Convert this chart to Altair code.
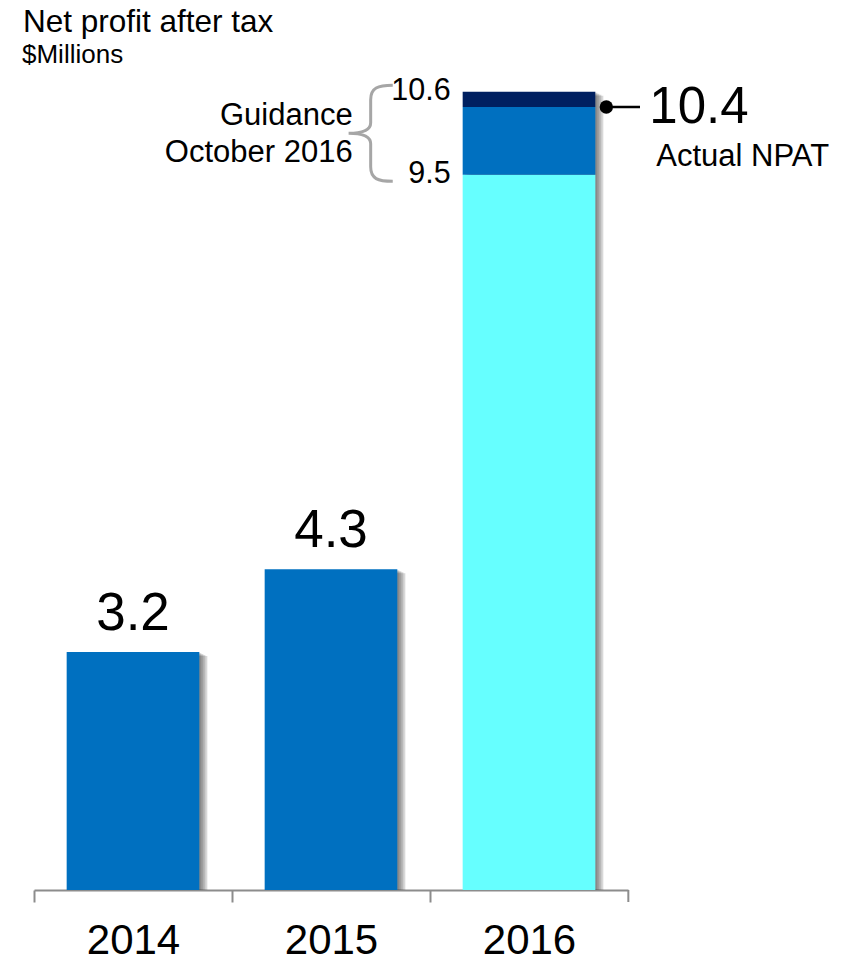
import altair as alt
import pandas as pd

# ---- data ----
years = ["2014", "2015", "2016"]
npat_prior = [3.16, 4.26]          # bar heights of 2014, 2015
npat_labels = ["3.2", "4.3"]
guidance_low = 9.5
guidance_high = 10.6
actual_2016 = 10.4

seg_year = ["2014", "2015", "2016", "2016", "2016"]
seg_start = [0, 0, 0, guidance_low, actual_2016]
seg_end = [npat_prior[0], npat_prior[1], guidance_low, actual_2016, guidance_high]
seg_color = ["#0070C0", "#0070C0", "#66FFFF", "#0070C0", "#002060"]

FONT = "Liberation Sans"
AXIS_GREY = "#8C8C8C"

segs = pd.DataFrame({"year": seg_year, "start": seg_start, "end": seg_end, "color": seg_color})
totals = pd.DataFrame({"year": years, "total": [npat_prior[0], npat_prior[1], guidance_high]})
prior = pd.DataFrame({"year": years[:2], "v": npat_prior, "label": npat_labels})

xscale = alt.Scale(domain=years, paddingInner=0.33, paddingOuter=0.165)
yscale = alt.Scale(domain=[0, 11.82], nice=False, zero=True)

X = alt.X("year:N", scale=xscale, axis=alt.Axis(
    title=None, labelAngle=0, labelFont=FONT, labelFontSize=42, labelColor="black",
    labelBaseline="alphabetic", labelPadding=51, domainColor=AXIS_GREY, domainWidth=2,
    tickColor=AXIS_GREY, tickWidth=2, tickSize=12, tickOffset=-99, labelOffset=99,
    grid=False))

# shadows
shadows = []
for k in [2, 4, 6, 8]:
    shadows.append(
        alt.Chart(totals).mark_bar(color="#303030", opacity=0.19, xOffset=k, yOffset=k * 0.5)
        .encode(x=X, y=alt.Y("total:Q", scale=yscale, axis=None), y2=alt.datum(0))
    )

bars = alt.Chart(segs).mark_bar().encode(
    x=X,
    y=alt.Y("start:Q", scale=yscale, axis=None),
    y2="end:Q",
    color=alt.Color("color:N", scale=None),
)

# closing tick at the right end of the category axis
end_tick = alt.Chart(pd.DataFrame({"year": [years[-1]]})).mark_rule(
    color=AXIS_GREY, strokeWidth=2, xOffset=33
).encode(x=alt.X("year:N", scale=xscale, bandPosition=1),
         y=alt.datum(0, scale=yscale), y2=alt.value(902))

value_labels = alt.Chart(prior).mark_text(
    font=FONT, fontSize=53, baseline="alphabetic", dy=-22, color="black"
).encode(x=alt.X("year:N", scale=xscale), y=alt.Y("v:Q", scale=yscale), text="label:N")

g = pd.DataFrame({"year": ["2016", "2016"], "v": [guidance_high, guidance_low],
                  "label": [f"{guidance_high:.1f}", f"{guidance_low:.1f}"]})
guide_vals = alt.Chart(g).mark_text(
    font=FONT, fontSize=30.5, baseline="alphabetic", align="right", dx=-12, dy=8.5, color="black"
).encode(x=alt.X("year:N", scale=xscale, bandPosition=0), y=alt.Y("v:Q", scale=yscale), text="label:N")

mid = pd.DataFrame({"year": ["2016"], "v": [(guidance_high + guidance_low) / 2],
                    "label": [["Guidance", "October 2016"]]})
brace_path = ("M0.46,-1 C0.15,-1 0,-0.95 0,-0.7 L0,-0.22 C0,-0.06 -0.2,0 -0.46,0 "
              "C-0.2,0 0,0.06 0,0.22 L0,0.7 C0,0.95 0.15,1 0.46,1")
brace = alt.Chart(mid).mark_point(
    shape=brace_path, size=9216, filled=False, stroke="#A6A6A6", strokeWidth=3, opacity=1,
    xOffset=-92
).encode(x=alt.X("year:N", scale=xscale, bandPosition=0), y=alt.Y("v:Q", scale=yscale))

guide_text = alt.Chart(mid).mark_text(
    font=FONT, fontSize=31, baseline="alphabetic", align="right", dx=-110, dy=-8.4,
    lineHeight=37, color="black"
).encode(x=alt.X("year:N", scale=xscale, bandPosition=0), y=alt.Y("v:Q", scale=yscale), text="label")

act = pd.DataFrame({"year": ["2016"], "v": [actual_2016], "label": [f"{actual_2016:.1f}"],
                    "sub": ["Actual NPAT"]})
act_rule = alt.Chart(act).mark_rule(color="black", strokeWidth=2.5, xOffset=11).encode(
    x=alt.X("year:N", scale=xscale, bandPosition=1), x2=alt.value(606),
    y=alt.Y("v:Q", scale=yscale))
act_dot = alt.Chart(act).mark_point(
    shape="circle", size=180, filled=True, color="black", opacity=1, xOffset=11
).encode(x=alt.X("year:N", scale=xscale, bandPosition=1), y=alt.Y("v:Q", scale=yscale))
act_val = alt.Chart(act).mark_text(
    font=FONT, fontSize=51, baseline="alphabetic", align="left", dx=54, dy=16, color="black"
).encode(x=alt.X("year:N", scale=xscale, bandPosition=1), y=alt.Y("v:Q", scale=yscale), text="label:N")
act_sub = alt.Chart(act).mark_text(
    font=FONT, fontSize=31, baseline="alphabetic", align="left", dx=61, dy=59.5, color="black"
).encode(x=alt.X("year:N", scale=xscale, bandPosition=1), y=alt.Y("v:Q", scale=yscale), text="sub:N")

titles = pd.DataFrame({"t": ["Net profit after tax"]})
title = alt.Chart(titles).mark_text(
    font=FONT, fontSize=31.5, baseline="alphabetic", align="left", color="black"
).encode(x=alt.value(-11), y=alt.value(32), text="t:N")
subt = alt.Chart(pd.DataFrame({"t": ["$Millions"]})).mark_text(
    font=FONT, fontSize=26, baseline="alphabetic", align="left", color="black"
).encode(x=alt.value(-12), y=alt.value(63), text="t:N")

chart = alt.layer(
    *shadows, bars, end_tick, value_labels, guide_vals, brace, guide_text,
    act_rule, act_dot, act_val, act_sub, title, subt
).properties(
    width=594, height=890,
    background="white",
    autosize=alt.AutoSizeParams(type="none"),
    padding={"left": 34, "top": 0, "right": 215, "bottom": 71},
).configure_view(strokeWidth=0, stroke=None)

chart.save("out.html", embed_options={"renderer": "svg", "actions": False})
